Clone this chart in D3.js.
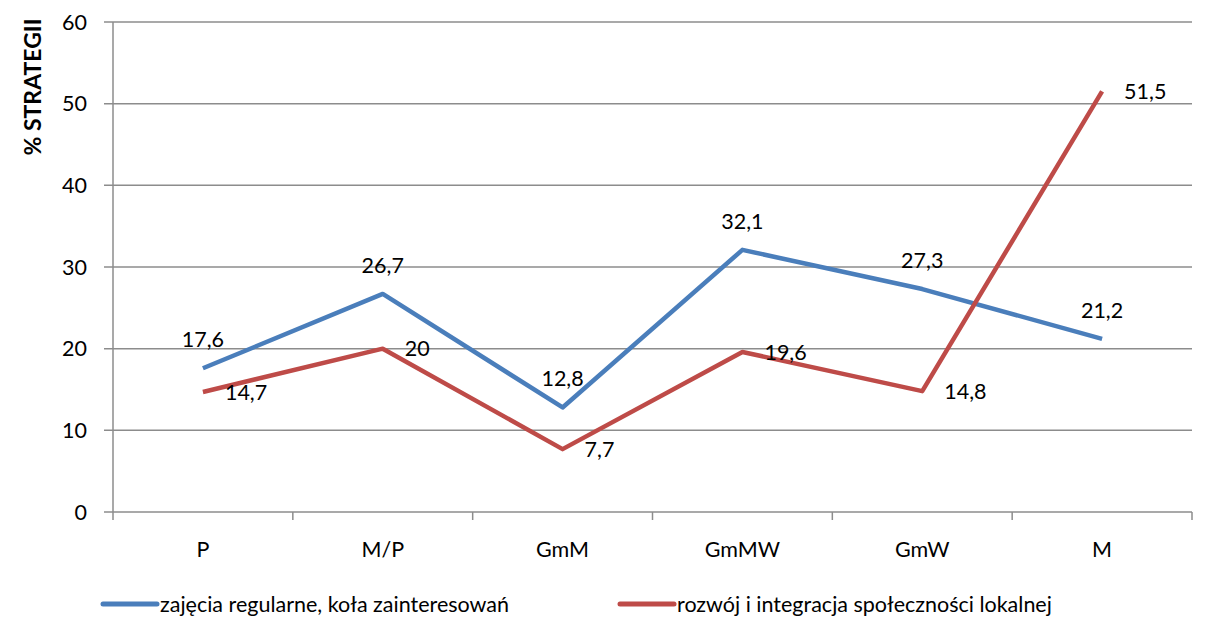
<!DOCTYPE html>
<html>
<head>
<meta charset="utf-8">
<script src="https://cdn.jsdelivr.net/npm/d3@7"></script>
<style>
  body { margin: 0; background: #fff; }
  text { font-family: Lato, "Open Sans", sans-serif; fill: #000; }
</style>
</head>
<body>
<div id="chart"></div>
<script>
const categories = ["P", "M/P", "GmM", "GmMW", "GmW", "M"];
const zajecia = [17.6, 26.7, 12.8, 32.1, 27.3, 21.2];
const rozwoj = [14.7, 20, 7.7, 19.6, 14.8, 51.5];
const yTicks = [0, 10, 20, 30, 40, 50, 60];
const seriesNames = ["zajęcia regularne, koła zainteresowań", "rozwój i integracja społeczności lokalnej"];

const W = 1207, H = 619;
const margin = { top: 22, right: 15, bottom: 107, left: 113 };
const width = W - margin.left - margin.right;
const height = H - margin.top - margin.bottom;
const fs = "21.5px";

const svg = d3.select("#chart").append("svg")
    .attr("width", W)
    .attr("height", H);

const g = svg.append("g")
    .attr("transform", "translate(" + margin.left + "," + margin.top + ")");

const x = d3.scaleBand().domain(categories).range([0, width]);
const y = d3.scaleLinear().domain([0, 60]).range([height, 0]);

// gridlines
g.selectAll(".grid")
    .data(yTicks)
    .enter()
    .append("line")
    .attr("x1", -9)
    .attr("x2", width)
    .attr("y1", d => y(d))
    .attr("y2", d => y(d))
    .attr("stroke", "#8c8c8c")
    .attr("stroke-width", 1.5);

// y axis line
g.append("line")
    .attr("x1", 0).attr("x2", 0)
    .attr("y1", 0).attr("y2", height)
    .attr("stroke", "#8c8c8c")
    .attr("stroke-width", 1.5);

// y tick labels
g.selectAll(".ylab")
    .data(yTicks)
    .enter()
    .append("text")
    .attr("x", -26)
    .attr("y", d => y(d))
    .attr("dy", "0.36em")
    .attr("text-anchor", "end")
    .style("font-size", fs)
    .text(d => d);

// x tick marks at band boundaries
const bounds = categories.map(c => x(c)).concat([width]);
g.selectAll(".xtick")
    .data(bounds)
    .enter()
    .append("line")
    .attr("x1", d => d).attr("x2", d => d)
    .attr("y1", height).attr("y2", height + 8)
    .attr("stroke", "#8c8c8c")
    .attr("stroke-width", 1.5);

// x labels
g.selectAll(".xlab")
    .data(categories)
    .enter()
    .append("text")
    .attr("x", d => x(d) + x.bandwidth() / 2)
    .attr("y", height + 45)
    .attr("text-anchor", "middle")
    .style("font-size", fs)
    .text(d => d);

// y title
svg.append("text")
    .attr("transform", "rotate(-90)")
    .attr("x", -87)
    .attr("y", 41)
    .attr("text-anchor", "middle")
    .style("font-size", "23px")
    .style("font-weight", "bold")
    .text("% STRATEGII");

const cx = d => x(d) + x.bandwidth() / 2;
const line = d3.line()
    .x((d, i) => cx(categories[i]))
    .y(d => y(d));

const series = [
    { name: seriesNames[0], values: zajecia, color: "#4a7ebb" },
    { name: seriesNames[1], values: rozwoj, color: "#be4b48" }
];

series.forEach(s => {
    g.append("path")
        .datum(s.values)
        .attr("fill", "none")
        .attr("stroke", s.color)
        .attr("stroke-width", 4.5)
        .attr("stroke-linejoin", "round")
        .attr("d", line);
});

// labels: blue above, red to the right
g.selectAll(".lblA")
    .data(zajecia)
    .enter()
    .append("text")
    .attr("x", (d, i) => cx(categories[i]))
    .attr("y", d => y(d) - 21)
    .attr("text-anchor", "middle")
    .style("font-size", fs)
    .text(d => String(d).replace(".", ","));

g.selectAll(".lblB")
    .data(rozwoj)
    .enter()
    .append("text")
    .attr("x", (d, i) => cx(categories[i]) + 22)
    .attr("y", d => y(d))
    .attr("dy", "0.36em")
    .attr("text-anchor", "start")
    .style("font-size", fs)
    .text(d => String(d).replace(".", ","));

// legend
const legendX = [101, 618];
series.forEach((s, i) => {
    const lg = svg.append("g").attr("transform", "translate(" + legendX[i] + ",604)");
    lg.append("line")
        .attr("x1", 2).attr("x2", 56)
        .attr("y1", 0).attr("y2", 0)
        .attr("stroke", s.color)
        .attr("stroke-width", 5)
        .attr("stroke-linecap", "round");
    lg.append("text")
        .attr("x", 59)
        .attr("y", 0)
        .attr("dy", "0.36em")
        .style("font-size", fs)
        .text(s.name);
});
</script>
</body>
</html>
